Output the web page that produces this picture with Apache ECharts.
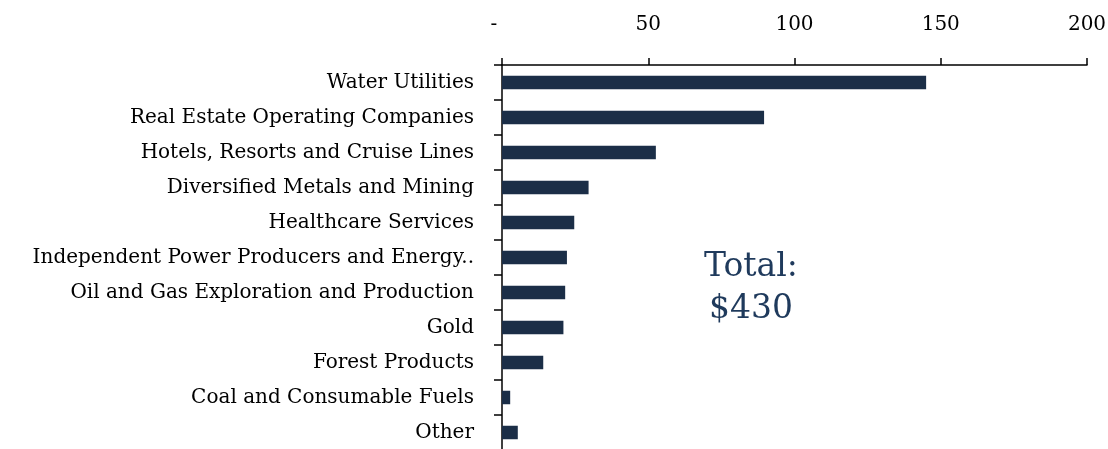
<!DOCTYPE html>
<html>
<head>
<meta charset="utf-8">
<script src="https://cdn.jsdelivr.net/npm/echarts@6/dist/echarts.min.js"></script>
<style>
  html, body { margin: 0; padding: 0; background: #fff; }
  #chart { width: 1108px; height: 449px; }
</style>
</head>
<body>
<div id="chart"></div>
<script>
// Sub-industries, top to bottom
const categories = [
  'Water Utilities',
  'Real Estate Operating Companies',
  'Hotels, Resorts and Cruise Lines',
  'Diversified Metals and Mining',
  'Healthcare Services',
  'Independent Power Producers and Energy..',
  'Oil and Gas Exploration and Production',
  'Gold',
  'Forest Products',
  'Coal and Consumable Fuels',
  'Other'
];
const values = [145, 89.6, 52.6, 29.6, 24.7, 22.2, 21.6, 21, 14.1, 2.8, 5.4];
const xTicks = [0, 50, 100, 150, 200];
const totalLabel = ['Total:', '$430'];

const FONT = '"DejaVu Serif", "Liberation Serif", serif';
const NAVY = '#1b2e47';

const chart = echarts.init(document.getElementById('chart'), null, { renderer: 'canvas' });
chart.setOption({
  animation: false,
  grid: { left: 502, right: 21, top: 65, height: 385, containLabel: false, outerBoundsMode: 'none' },
  xAxis: {
    type: 'value',
    position: 'top',
    min: xTicks[0],
    max: xTicks[xTicks.length - 1],
    interval: 50,
    splitLine: { show: false },
    axisLine: { show: true, lineStyle: { color: '#000', width: 1.5 } },
    axisTick: { show: true, length: 7, lineStyle: { color: '#000', width: 1.5 } },
    axisLabel: {
      margin: 30,
      color: '#000',
      fontFamily: FONT,
      fontSize: 20,
      formatter: v => (v === 0 ? '{dash|-}' : String(v)),
      rich: {
        dash: { fontFamily: FONT, fontSize: 20, color: '#000', padding: [0, 16, 0, 0] }
      }
    }
  },
  yAxis: {
    type: 'category',
    inverse: true,
    data: categories,
    axisLine: { show: true, lineStyle: { color: '#000', width: 1.5 } },
    axisTick: { show: true, length: 8, lineStyle: { color: '#000', width: 1.5 } },
    axisLabel: {
      margin: 28,
      color: '#000',
      fontFamily: FONT,
      fontSize: 20,
      interval: 0
    }
  },
  series: [{
    type: 'bar',
    data: values,
    barWidth: 13.5,
    itemStyle: { color: NAVY },
    silent: true
  }],
  graphic: [{
    type: 'text',
    x: 751,
    y: 246,
    style: {
      text: totalLabel.join('\n'),
      fill: '#1f3a5c',
      font: '33px ' + FONT,
      align: 'center',
      verticalAlign: 'top',
      lineHeight: 42
    }
  }]
});
</script>
</body>
</html>
